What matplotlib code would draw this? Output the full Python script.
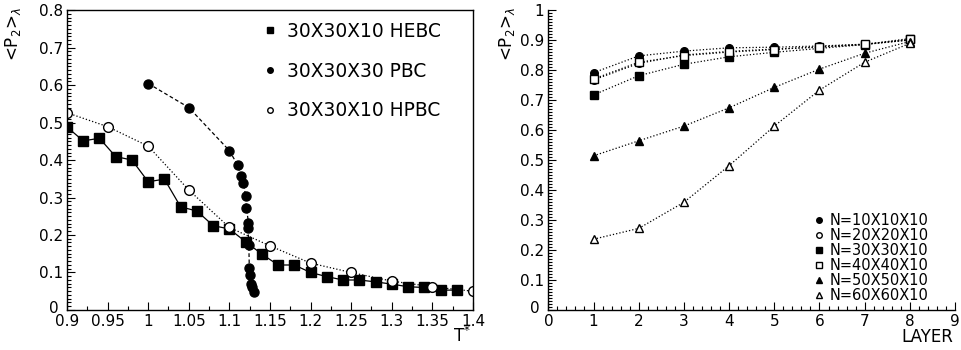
import numpy as np
import matplotlib
matplotlib.use('Agg')
import matplotlib.pyplot as plt
from matplotlib.ticker import MultipleLocator
from matplotlib.transforms import ScaledTranslation

plt.rcParams['font.family'] = ['DejaVu Sans']

# left panel: <P2> vs T*
t_hebc = [0.90, 0.92, 0.94, 0.96, 0.98, 1.00, 1.02, 1.04, 1.06, 1.08, 1.10, 1.12,
          1.14, 1.16, 1.18, 1.20, 1.22, 1.24, 1.26, 1.28, 1.30, 1.32, 1.34, 1.36, 1.38]
p_hebc = [0.488, 0.451, 0.458, 0.409, 0.400, 0.342, 0.349, 0.275, 0.264, 0.225, 0.216, 0.182,
          0.149, 0.120, 0.120, 0.100, 0.089, 0.080, 0.080, 0.075, 0.069, 0.062, 0.060, 0.053, 0.053]

t_pbc = [1.00, 1.05, 1.10, 1.110, 1.114, 1.117, 1.120, 1.121, 1.1235, 1.123,
         1.124, 1.1245, 1.125, 1.127, 1.128, 1.130]
p_pbc = [0.604, 0.540, 0.425, 0.387, 0.358, 0.340, 0.305, 0.272, 0.233, 0.218,
         0.172, 0.112, 0.092, 0.070, 0.061, 0.049]

t_hpbc = [0.90, 0.95, 1.00, 1.05, 1.10, 1.15, 1.20, 1.25, 1.30, 1.35, 1.40]
p_hpbc = [0.526, 0.489, 0.437, 0.320, 0.220, 0.171, 0.125, 0.100, 0.077, 0.062, 0.050]

left_labels = ['30X30X10 HEBC', '30X30X30 PBC', '30X30X10 HPBC']

# right panel: <P2> vs layer
layers = [1, 2, 3, 4, 5, 6, 7, 8]
p_10 = [0.791, 0.847, 0.863, 0.874, 0.876, 0.880, 0.886, 0.900]
p_20 = [0.767, 0.822, 0.850, 0.862, 0.870, 0.876, 0.885, 0.900]
p_30 = [0.717, 0.781, 0.819, 0.844, 0.859, 0.872, 0.885, 0.905]
p_40 = [0.770, 0.826, 0.848, 0.860, 0.868, 0.878, 0.886, 0.902]
p_50 = [0.514, 0.564, 0.613, 0.674, 0.742, 0.803, 0.856, 0.895]
p_60 = [0.236, 0.272, 0.359, 0.481, 0.613, 0.733, 0.826, 0.889]
sizes = ['N=10X10X10', 'N=20X20X10', 'N=30X30X10', 'N=40X40X10', 'N=50X50X10', 'N=60X60X10']

fig = plt.figure(figsize=(9.61, 3.5), dpi=100)
ax1 = fig.add_axes([0.0697, 0.1143, 0.4225, 0.8571])
ax2 = fig.add_axes([0.5706, 0.1143, 0.4232, 0.8571])

for ax in (ax1, ax2):
    ax.tick_params(direction='in', which='both', labelsize=11, pad=3)
    ax.tick_params(which='major', length=6, width=0.8)
    ax.tick_params(which='minor', length=3, width=0.8)
    for s in ax.spines.values():
        s.set_linewidth(1.0)

# left
ax1.plot(t_hebc, p_hebc, 's-', color='black', ms=7, lw=0.9)
ax1.plot(t_pbc, p_pbc, 'o--', color='black', ms=6.5, lw=0.9, dashes=(3, 2))
ax1.plot(t_hpbc, p_hpbc, 'o:', color='black', mfc='white', ms=7, lw=0.9)
ax1.set_xlim(0.9, 1.4)
ax1.set_ylim(0, 0.8)
ax1.xaxis.set_minor_locator(MultipleLocator(0.025))
ax1.yaxis.set_minor_locator(MultipleLocator(0.01))
ax1.set_xticks(np.arange(0.9, 1.401, 0.05))
ax1.set_xticklabels(['0.9', '0.95', '1', '1.05', '1.1', '1.15', '1.2', '1.25', '1.3', '1.35', '1.4'])
ax1.set_yticks(np.arange(0, 0.801, 0.1))
ax1.set_yticklabels(['0', '0.1', '0.2', '0.3', '0.4', '0.5', '0.6', '0.7', '0.8'])

h1, = ax1.plot([], [], 's', color='black', ms=4)
h2, = ax1.plot([], [], 'o', color='black', ms=4)
h3, = ax1.plot([], [], 'o', color='black', mfc='white', ms=4)
ax1.legend([h1, h2, h3], left_labels,
           loc='upper left', bbox_to_anchor=(0.4815, 0.96), frameon=False,
           borderpad=0, borderaxespad=0,
           fontsize=13.4, handlelength=0.8, handletextpad=0.5, labelspacing=1.11)

fig.text(0.0135, 0.98, r'<P$_2$>$_\lambda$', rotation=90, ha='center', va='top', fontsize=12)
fig.text(0.481, 0.012, 'T$^{*}$', ha='center', va='bottom', fontsize=12)

# right
ax2.plot(layers, p_10, 'o:', color='black', ms=5.5, lw=0.9)
ax2.plot(layers, p_20, 'o:', color='black', mfc='white', ms=5.5, lw=0.9)
ax2.plot(layers, p_30, 's:', color='black', ms=5.5, lw=0.9)
ax2.plot(layers, p_40, 's:', color='black', mfc='white', ms=5.5, lw=0.9)
ax2.plot(layers, p_50, '^:', color='black', ms=5.5, lw=0.9)
ax2.plot(layers, p_60, '^:', color='black', mfc='white', ms=6, lw=0.9)
ax2.set_xlim(0, 9)
ax2.set_ylim(0, 1)
ax2.xaxis.set_major_locator(MultipleLocator(1))
ax2.xaxis.set_minor_locator(MultipleLocator(0.2))
ax2.set_yticks(np.arange(0, 1.001, 0.1))
ax2.set_yticklabels(['0', '0.1', '0.2', '0.3', '0.4', '0.5', '0.6', '0.7', '0.8', '0.9', '1'])
ax2.yaxis.set_minor_locator(MultipleLocator(0.01))
ax2.spines['top'].set_visible(False)
ax2.spines['right'].set_visible(False)

hs = []
for m, filled in [('o', True), ('o', False), ('s', True), ('s', False), ('^', True), ('^', False)]:
    h, = ax2.plot([], [], m, color='black', mfc='black' if filled else 'white', ms=4)
    hs.append(h)
ax2.legend(hs, sizes, loc='lower left', bbox_to_anchor=(0.652, 0.023), frameon=False,
           borderpad=0, borderaxespad=0,
           fontsize=10.5, handlelength=0.8, handletextpad=0.3, labelspacing=0.0)

fig.text(0.5275, 0.98, r'<P$_2$>$_\lambda$', rotation=90, ha='center', va='top', fontsize=12)
fig.text(0.992, 0.012, 'LAYER', ha='right', va='bottom', fontsize=12)

# the zero label sits a little up and left, clear of the x labels
for ax in (ax1, ax2):
    lbl = ax.get_yticklabels()[0]
    lbl.set_transform(lbl.get_transform() + ScaledTranslation(-3 / 72, 2 / 72, fig.dpi_scale_trans))

fig.savefig('out.png', dpi=100)
